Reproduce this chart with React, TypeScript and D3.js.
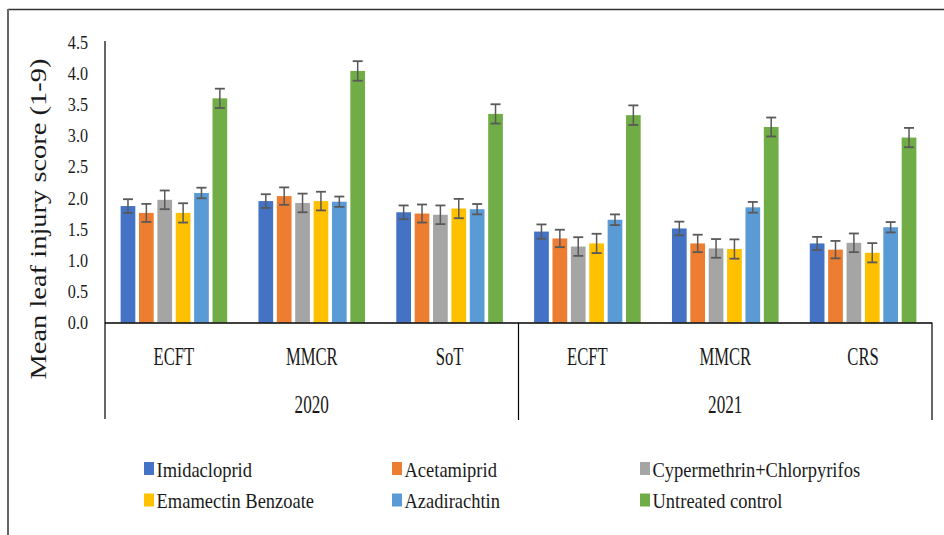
import * as d3 from 'd3';

const sites = ['ECFT', 'MMCR', 'SoT', 'ECFT', 'MMCR', 'CRS'];
const years = ['2020', '2021'];
const seriesNames = [
  'Imidacloprid',
  'Acetamiprid',
  'Cypermethrin+Chlorpyrifos',
  'Emamectin Benzoate',
  'Azadirachtin',
  'Untreated control',
];
const colors = ['#4472C4', '#ED7D31', '#A5A5A5', '#FFC000', '#5B9BD5', '#70AD47'];

const imidacloprid = [1.87, 1.95, 1.77, 1.46, 1.51, 1.27];
const acetamiprid = [1.76, 2.03, 1.75, 1.35, 1.27, 1.17];
const cypermethrin = [1.97, 1.92, 1.73, 1.22, 1.19, 1.28];
const emamectin = [1.76, 1.95, 1.83, 1.27, 1.18, 1.12];
const azadirachtin = [2.08, 1.94, 1.82, 1.65, 1.85, 1.53];
const control = [3.6, 4.04, 3.35, 3.33, 3.14, 2.97];

const imidaclopridErr = [0.11, 0.11, 0.11, 0.115, 0.11, 0.105];
const acetamipridErr = [0.145, 0.14, 0.145, 0.14, 0.14, 0.14];
const cypermethrinErr = [0.15, 0.15, 0.15, 0.15, 0.15, 0.15];
const emamectinErr = [0.155, 0.15, 0.155, 0.155, 0.155, 0.155];
const azadirachtinErr = [0.085, 0.083, 0.083, 0.086, 0.086, 0.083];
const controlErr = [0.155, 0.157, 0.155, 0.157, 0.152, 0.155];

const yTicks = [0, 0.5, 1, 1.5, 2, 2.5, 3, 3.5, 4, 4.5];

const values = [imidacloprid, acetamiprid, cypermethrin, emamectin, azadirachtin, control];
const errors = [imidaclopridErr, acetamipridErr, cypermethrinErr, emamectinErr, azadirachtinErr, controlErr];

const serif = { fontFamily: '"Liberation Serif", "Times New Roman", serif' };

export default function App() {
  const width = 944;
  const height = 535;
  const left = 105;
  const right = 932;

  const x0 = d3.scaleBand<number>()
    .domain(d3.range(sites.length))
    .range([left, right]);

  const x1 = d3.scaleBand<number>()
    .domain(d3.range(seriesNames.length))
    .range([0, x0.bandwidth()])
    .paddingInner(0.2)
    .paddingOuter(0.85);

  const y = d3.scaleLinear().domain([0, 4.5]).range([322.5, 42.3]);
  const fmt = d3.format('.1f');
  const textColor = '#1a1a1a';
  const yearW = x0.bandwidth() * 3;

  return (
    <svg
      width={width}
      height={height}
      style={{ position: 'absolute', left: 0, top: 0, background: '#fff' }}
    >
      {/* outer frame */}
      <line x1={8} y1={9.5} x2={width} y2={9.5} stroke="#333" strokeWidth={1.5} />
      <line x1={8} y1={9} x2={8} y2={height} stroke="#666" strokeWidth={2} />

      {/* y tick labels */}
      {yTicks.map(t => (
        <text
          key={t}
          transform={`translate(88,${y(t)}) scale(0.85,1)`}
          dy="0.35em"
          textAnchor="end"
          fontSize={19}
          fill={textColor}
          style={serif}
        >
          {fmt(t)}
        </text>
      ))}

      {/* y title */}
      <text
        transform={`translate(46,219) rotate(-90) scale(1,0.8)`}
        textAnchor="middle"
        fontSize={28.5}
        fill={textColor}
        style={serif}
      >
        Mean leaf injury score (1-9)
      </text>

      {/* bars */}
      {sites.map((_, i) => (
        <g key={i} transform={`translate(${x0(i)},0)`}>
          {values.map((vals, s) => {
            const v = vals[i];
            const e = errors[s][i];
            const bx = x1(s) || 0;
            const cx = bx + x1.bandwidth() / 2;
            return (
              <g key={s}>
                <rect x={bx} y={y(v)} width={x1.bandwidth()} height={y(0) - y(v)} fill={colors[s]} />
                <line x1={cx} x2={cx} y1={y(v + e)} y2={y(v - e)} stroke="#595959" strokeWidth={1.5} />
                <line x1={cx - 5} x2={cx + 5} y1={y(v + e)} y2={y(v + e)} stroke="#595959" strokeWidth={1.8} />
                <line x1={cx - 5} x2={cx + 5} y1={y(v - e)} y2={y(v - e)} stroke="#595959" strokeWidth={1.8} />
              </g>
            );
          })}
        </g>
      ))}

      {/* axes */}
      <line x1={left} x2={left} y1={41} y2={419} stroke="#000" strokeWidth={1.2} />
      <line x1={left} x2={right} y1={y(0) + 0.5} y2={y(0) + 0.5} stroke="#000" strokeWidth={1.5} />
      <line x1={left + yearW} x2={left + yearW} y1={y(0)} y2={420} stroke="#000" strokeWidth={1.2} />
      <line x1={right} x2={right} y1={y(0)} y2={420} stroke="#000" strokeWidth={1.2} />

      {/* category labels */}
      {sites.map((s, i) => (
        <text
          key={i}
          transform={`translate(${(x0(i) || 0) + x0.bandwidth() / 2},365) scale(0.64,1)`}
          textAnchor="middle"
          fontSize={26}
          fill={textColor}
          style={serif}
        >
          {s}
        </text>
      ))}
      {years.map((yr, i) => (
        <text
          key={yr}
          transform={`translate(${left + yearW * i + yearW / 2},413) scale(0.66,1)`}
          textAnchor="middle"
          fontSize={26}
          fill={textColor}
          style={serif}
        >
          {yr}
        </text>
      ))}

      {/* legend */}
      {seriesNames.map((name, i) => {
        const col = i % 3;
        const row = Math.floor(i / 3);
        const lx = 144 + col * 248;
        const ly = 462 + row * 31.5;
        return (
          <g key={name} transform={`translate(${lx},${ly})`}>
            <rect x={0} y={0} width={10} height={13} fill={colors[i]} />
            <text
              transform="translate(12.5,14.8) scale(0.86,1)"
              fontSize={21.5}
              fill={textColor}
              style={serif}
            >
              {name}
            </text>
          </g>
        );
      })}
    </svg>
  );
}
